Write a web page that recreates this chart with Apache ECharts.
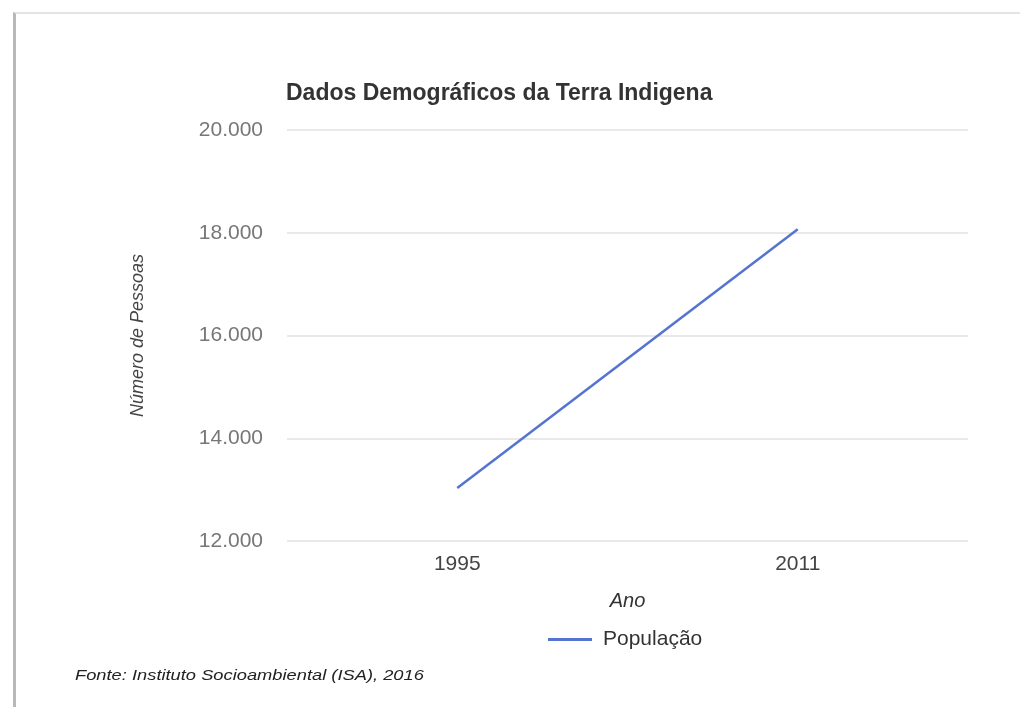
<!DOCTYPE html>
<html>
<head>
<meta charset="utf-8">
<script src="https://cdn.jsdelivr.net/npm/echarts@6/dist/echarts.min.js"></script>
<style>
html,body{margin:0;padding:0;background:#fff;}
#frame{position:absolute;left:13px;top:12px;width:1007px;height:695px;border-left:3px solid #b8b8b8;border-top:2px solid #e4e4e4;box-sizing:border-box;}
#chart{position:absolute;left:0;top:0;width:1020px;height:707px;}
</style>
</head>
<body>
<div id="frame"></div>
<div id="chart"></div>
<script>
const categories = ['1995', '2011'];
const populacao = [13030, 18070];
const yTicks = [12000, 14000, 16000, 18000, 20000];

const FONT = 'Arial, "Liberation Sans", sans-serif';
function fmt(v) {
  return String(v).replace(/\B(?=(\d{3})+(?!\d))/g, '.');
}

const chart = echarts.init(document.getElementById('chart'), null, {renderer: 'canvas'});
chart.setOption({
  backgroundColor: 'transparent',
  animation: false,
  title: {
    text: 'Dados Demográficos da Terra Indigena',
    left: 286, top: 82, padding: 0,
    textStyle: {fontFamily: FONT, fontSize: 23, fontWeight: 'bold', color: '#333'}
  },
  legend: {
    data: ['População'],
    left: 548, top: 629, padding: 0,
    icon: 'rect', itemWidth: 44, itemHeight: 3, itemGap: 8,
    textStyle: {fontFamily: FONT, fontSize: 21, color: '#333', padding: [0, 0, 0, 6]}
  },
  grid: {left: 287, right: 52, top: 130, bottom: 166, containLabel: false},
  xAxis: {
    type: 'category',
    data: categories,
    boundaryGap: true,
    name: 'Ano',
    nameLocation: 'middle',
    nameGap: 50,
    nameTextStyle: {fontFamily: FONT, fontSize: 20, fontStyle: 'italic', color: '#333'},
    axisLine: {show: false},
    axisTick: {show: false},
    axisLabel: {fontFamily: FONT, fontSize: 21, color: '#444', margin: 13}
  },
  yAxis: {
    type: 'value',
    min: yTicks[0], max: yTicks[yTicks.length - 1], interval: 2000,
    name: 'Número de Pessoas',
    nameLocation: 'middle',
    nameGap: 140,
    nameTextStyle: {fontFamily: FONT, fontSize: 18, fontStyle: 'italic', color: '#444'},
    axisLine: {show: false},
    axisTick: {show: false},
    axisLabel: {fontFamily: FONT, fontSize: 21, color: '#777', margin: 24, formatter: fmt},
    splitLine: {lineStyle: {color: '#e2e2e2', width: 1.5}}
  },
  series: [{
    name: 'População',
    type: 'line',
    data: populacao,
    showSymbol: false,
    symbol: 'none',
    itemStyle: {color: '#5474d0'},
    lineStyle: {color: '#5474d0', width: 2.5}
  }],
  graphic: [{
    type: 'text',
    x: 75, y: 676,
    scaleX: 1.22,
    style: {text: 'Fonte: Instituto Socioambiental (ISA), 2016', fontFamily: FONT, fontSize: 15, fontStyle: 'italic', fill: '#222', verticalAlign: 'middle'}
  }]
});
</script>
</body>
</html>
